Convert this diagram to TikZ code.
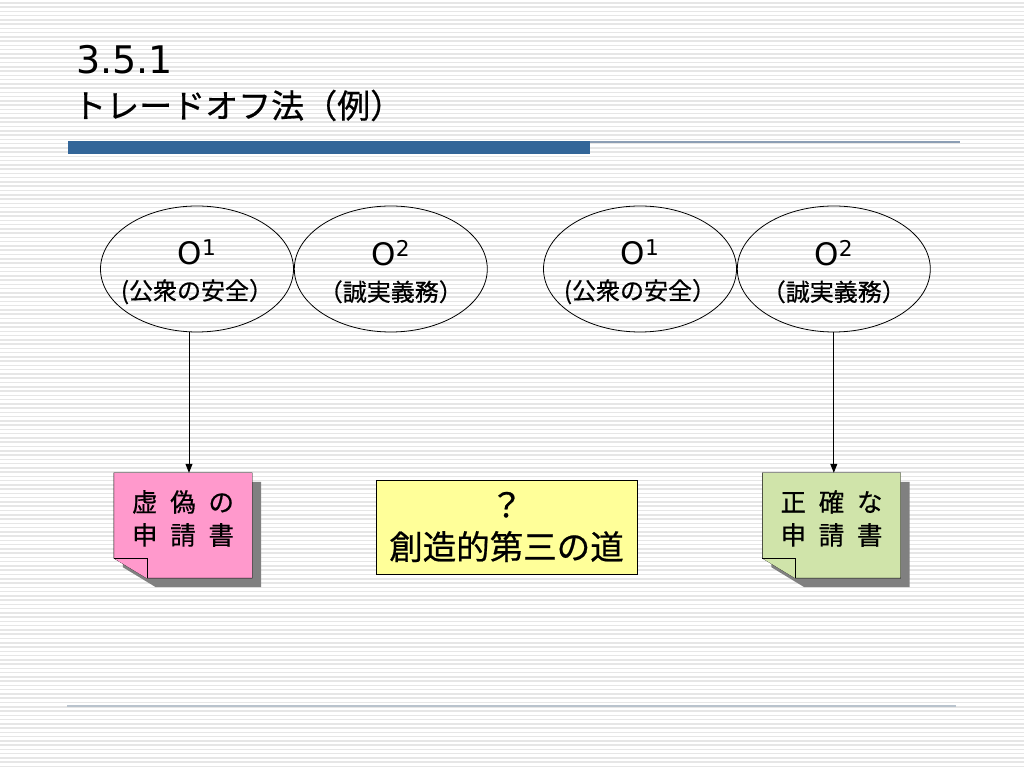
\documentclass[tikz,border=0pt]{standalone}
\usepackage{fontspec}
\setmainfont{DejaVu Sans}
\newfontfamily\jp[FakeBold=0.6]{Noto Sans CJK JP}
\usetikzlibrary{positioning,shapes.geometric,arrows.meta,backgrounds}

\definecolor{barblue}{RGB}{51,102,153}
\definecolor{linegray}{RGB}{140,158,180}
\definecolor{footgray}{RGB}{185,195,205}
\definecolor{stripegray}{RGB}{230,230,230}
\definecolor{pinknote}{RGB}{255,153,204}
\definecolor{greennote}{RGB}{208,228,170}
\definecolor{yellownote}{RGB}{255,255,153}
\definecolor{shadowgray}{RGB}{128,128,128}

% folded memo with its shadow, drawn round an empty node
\newcommand{\memo}[2]{%
  \fill[shadowgray] ([shift={(9,-9)}]#1.north west) -- ([shift={(9,-9)}]#1.north east)
    -- ([shift={(9,-9)}]#1.south east) -- ([shift={(42,-9)}]#1.south west)
    -- ([shift={(9,11)}]#1.south west) -- cycle;
  \filldraw[fill=#2] (#1.north west) -- (#1.north east) -- (#1.south east)
    -- ([xshift=33]#1.south west) -- ([yshift=20]#1.south west) -- cycle;
  \filldraw[fill=#2] ([yshift=20]#1.south west) -- ([shift={(33,20)}]#1.south west)
    -- ([xshift=33]#1.south west);
}

\begin{document}
\begin{tikzpicture}[x=1pt,y=1pt,
    goal/.style={ellipse,draw,line width=0.8pt,minimum width=193,minimum height=126,inner sep=0},
    goaltext/.style={align=center,inner sep=0,font=\jp\fontsize{24}{35}\selectfont},
    memo/.style={rectangle,minimum width=138,minimum height=105,inner sep=0},
    memotext/.style={align=center,inner sep=0,font=\jp\fontsize{25.5}{33}\selectfont},
    arrow/.style={-{Triangle[length=9pt,width=7pt]},line width=0.8pt}]
\useasboundingbox (0,0) rectangle (1024,768);
\begin{scope}[on background layer]
  \fill[white] (0,0) rectangle (1024,768);
  \foreach \i in {0,...,179}
    \draw[stripegray,line width=1.5pt] (0,\i*4.2667+1.5) -- (1024,\i*4.2667+1.5);
\end{scope}

% title
\node[anchor=base west,inner sep=0,font=\fontsize{38}{40}\selectfont] (num) at (76,694) {3.5.1};
\node[anchor=base west,inner sep=0,font=\jp\fontsize{33}{33}\selectfont] (title) at (73,650) {トレードオフ法（例）};
\fill[barblue] (68,614) rectangle (590,627);
\draw[linegray,line width=1.5pt] (590,626) -- (960,626);
\draw[footgray,line width=1.2pt] (67,62) -- (956,62);

% goals
\node[goal] (o1l) at (197,499) {};
\node[goal,right=0pt of o1l] (o2l) {};
\node[goal] (o1r) at (640,499) {};
\node[goal,right=0pt of o1r] (o2r) {};
\node[goaltext] (o1ltext) at ([yshift=-3]o1l) {{\rmfamily\fontsize{31}{35}\selectfont O\textsuperscript{1}}\\(公衆の安全）};
\node[goaltext] (o2ltext) at ([yshift=-3]o2l) {{\rmfamily\fontsize{31}{35}\selectfont O\textsuperscript{2}}\\（誠実義務）};
\node[goaltext] (o1rtext) at ([yshift=-3]o1r) {{\rmfamily\fontsize{31}{35}\selectfont O\textsuperscript{1}}\\(公衆の安全）};
\node[goaltext] (o2rtext) at ([yshift=-3]o2r) {{\rmfamily\fontsize{31}{35}\selectfont O\textsuperscript{2}}\\（誠実義務）};

% outcomes
\node[memo] (lie) at (183,242.5) {};
\node[memo] (true) at (831.5,242.5) {};
\begin{scope}[on background layer]
  \memo{lie}{pinknote}
  \memo{true}{greennote}
\end{scope}
\node[memotext] (lietext) at ([yshift=7]lie) {虚\enskip 偽\enskip の\\申\enskip 請\enskip 書};
\node[memotext] (truetext) at ([yshift=7]true) {正\enskip 確\enskip な\\申\enskip 請\enskip 書};
\node[draw,fill=yellownote,line width=0.8pt,minimum width=261,minimum height=94,inner sep=0,
  align=center,font=\jp\fontsize{33.5}{42}\selectfont] (third) at (506.5,241) {？\\創造的第三の道};

\draw[arrow] ([xshift=-8]o1l.south) -- ([xshift=-8]o1l.south |- lie.north);
\draw[arrow] (o2r.south) -- (o2r.south |- true.north);
\end{tikzpicture}
\end{document}
